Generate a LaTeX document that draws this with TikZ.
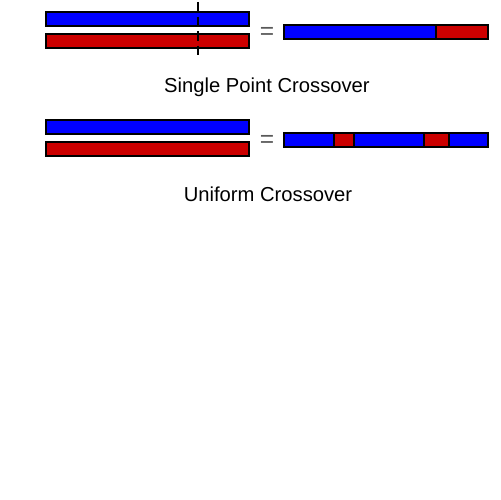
\documentclass[tikz,border=0pt]{standalone}
\usepackage{fontspec}
\setmainfont{Liberation Sans}
\definecolor{cblue}{HTML}{0000FF}
\definecolor{cred}{HTML}{CC0000}
\tikzset{
	every picture/.style={font=\fontsize{11.5}{11.5}\selectfont,},
	lw/.style={line width=0.6pt,},
	%%%
	gblue/.style={draw=black, fill=cblue, lw},
	gred/.style={draw=black, fill=cred, lw},
	cut/.style={black, line width=1.5pt, dash pattern=on 5.5pt off 2.8pt},
	title/.style={anchor=center, inner sep=0},
	equal/.style={anchor=center, inner sep=0, black!65, font=\fontsize{14}{14}\selectfont},
}
\gdef\xL{46}
\gdef\xR{249}
\gdef\xA{284}
\gdef\xB{488}

\begin{document}
\begin{tikzpicture}[x=0.02cm,y=-0.02cm]

	\useasboundingbox (0,0) rectangle (500,500);

	%%% Single point

	\draw[gblue] (\xL,12) rectangle (\xR,26);
	\draw[gred] (\xL,34) rectangle (\xR,48);
	\draw[cut] (198,2) -- (198,58);

	\node[equal] (eq1) at (267,33) {=};

	\draw[gblue] (\xA,25) rectangle (436,39);
	\draw[gred] (436,25) rectangle (\xB,39);

	\node[title] (t1) at (267,87) {Single Point Crossover};

	%%% Uniform

	\draw[gblue] (\xL,120) rectangle (\xR,134);
	\draw[gred] (\xL,142) rectangle (\xR,156);

	\node[equal] (eq2) at (267,141) {=};

	\draw[gblue] (\xA,133) rectangle (334,147);
	\draw[gred] (334,133) rectangle (354,147);
	\draw[gblue] (354,133) rectangle (424,147);
	\draw[gred] (424,133) rectangle (449,147);
	\draw[gblue] (449,133) rectangle (\xB,147);

	\node[title] (t2) at (268,194) {Uniform Crossover};

\end{tikzpicture}
\end{document}
